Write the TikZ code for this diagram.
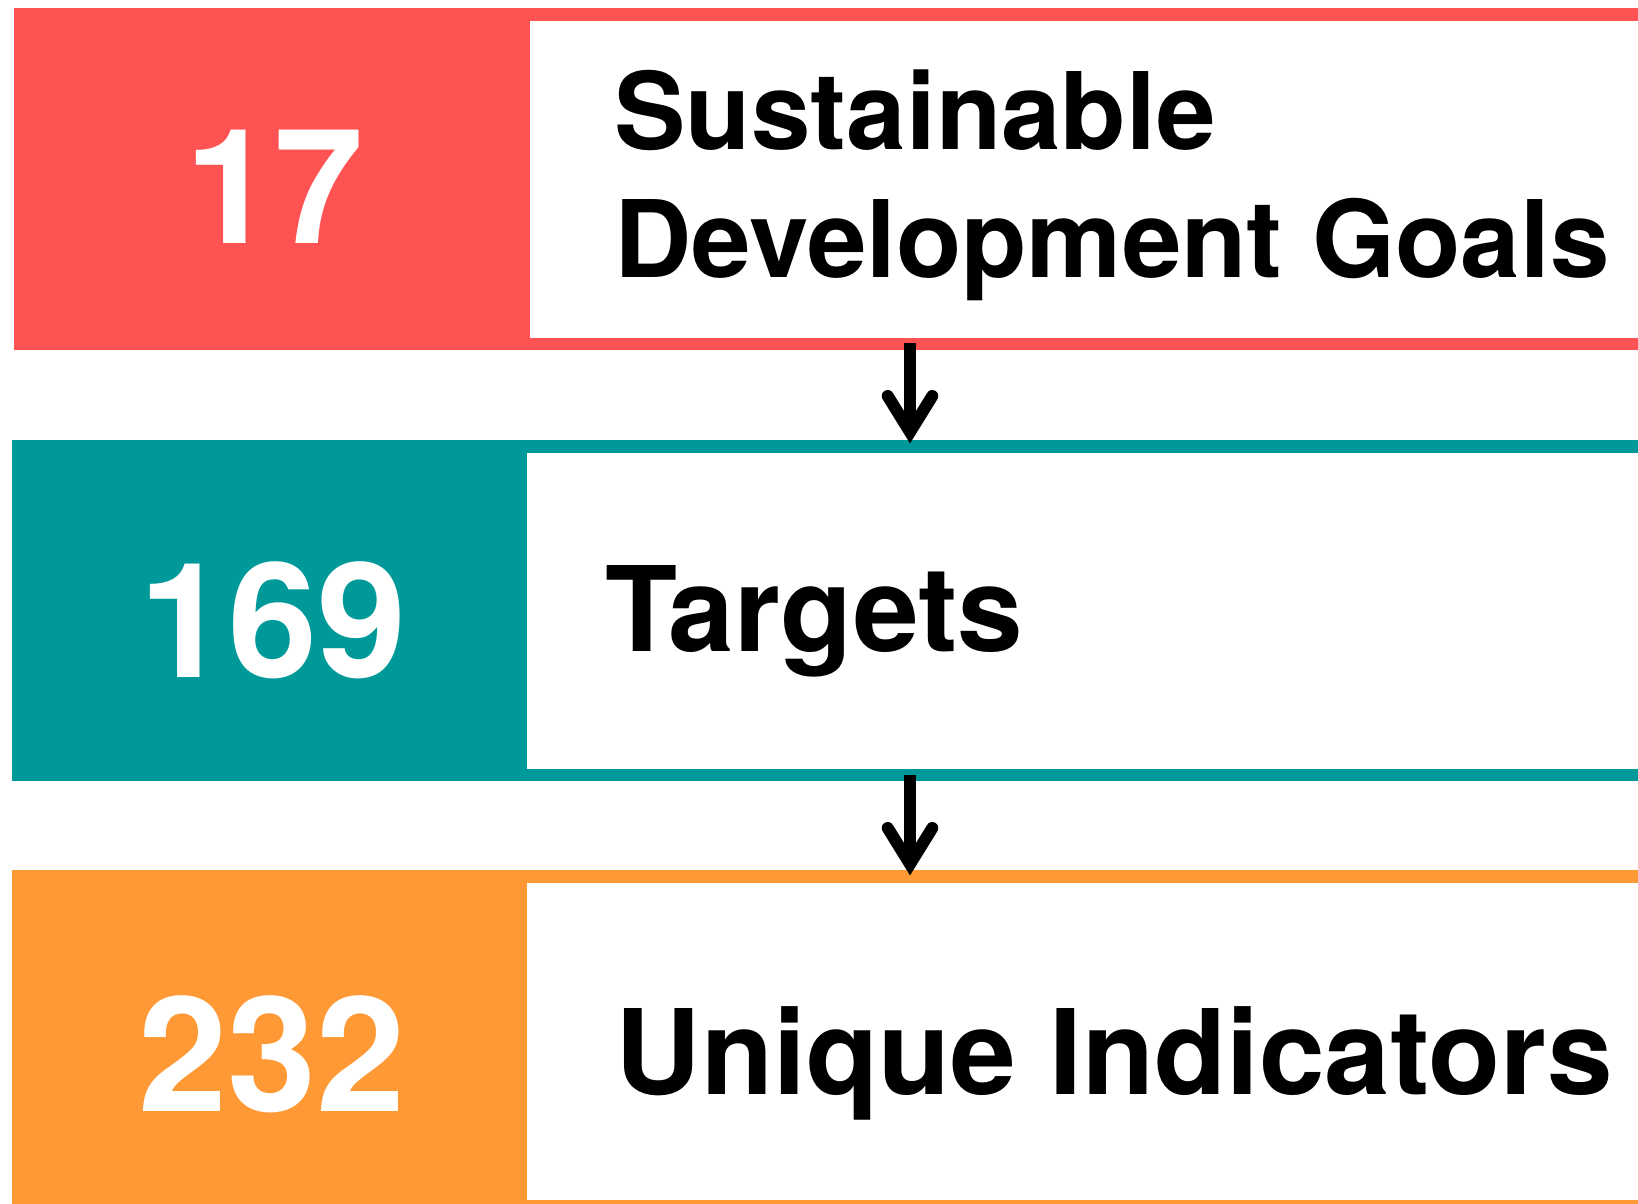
\documentclass[tikz,border=0pt]{standalone}
\usepackage{fontspec}
\setmainfont{TeX Gyre Heros}
\usepackage{xcolor}
\usetikzlibrary{arrows.meta,calc,positioning}
\definecolor{sdgred}{RGB}{255,82,82}
\definecolor{sdgteal}{RGB}{0,153,153}
\definecolor{sdgorange}{RGB}{255,153,54}
\begin{document}
\begin{tikzpicture}[x=0.5pt,y=-0.5pt,
    numtext/.style={text=white,inner sep=0pt,anchor=base,font=\fontsize{80}{80}\selectfont\bfseries},
    bandtext/.style={inner sep=0pt,anchor=base west,align=left,font=\fontsize{59}{64}\selectfont\bfseries},
    shaft/.style={line width=6pt},
    barbs/.style={line width=6pt,line cap=round,line join=miter}]
    \useasboundingbox (0,0) rectangle (1638,1204);
    \clip (0,0) rectangle (1638,1204);
    % bands
    \fill[sdgred](13.6,8.4) rectangle (1660,350);
    \fill[white](530,21) rectangle (1660,337.5);
    \fill[sdgteal](11.5,440) rectangle (1660,781);
    \fill[white](526.6,452.5) rectangle (1660,768.5);
    \fill[sdgorange](11.5,870.4) rectangle (1660,1215);
    \fill[white](526.6,883) rectangle (1660,1199.5);
    % numbers
    \node[numtext] (n17) at (274,243.5){17};
    \node[numtext] (n169) at (273,677){169};
    \node[numtext] (n232) at (272,1111.5){232};
    % labels
    \node[bandtext,font=\fontsize{53.5}{64}\selectfont\bfseries] (goals) at (614,277){Sustainable\\Development Goals};
    \node[bandtext] (targets) at (605,651.7){Targets};
    \node[bandtext] (indicators) at (615,1094){Unique Indicators};
    % arrows
    \coordinate (a1) at (910,343);
    \coordinate (b1) at (910,432);
    \coordinate (a2) at (910,775);
    \coordinate (b2) at (910,864);
    \draw[shaft](a1)--(b1);
    \draw[barbs]($(b1)+(-22.3,-36)$)--(b1)--($(b1)+(22.3,-36)$);
    \draw[shaft](a2)--(b2);
    \draw[barbs]($(b2)+(-22.3,-36)$)--(b2)--($(b2)+(22.3,-36)$);
\end{tikzpicture}
\end{document}
